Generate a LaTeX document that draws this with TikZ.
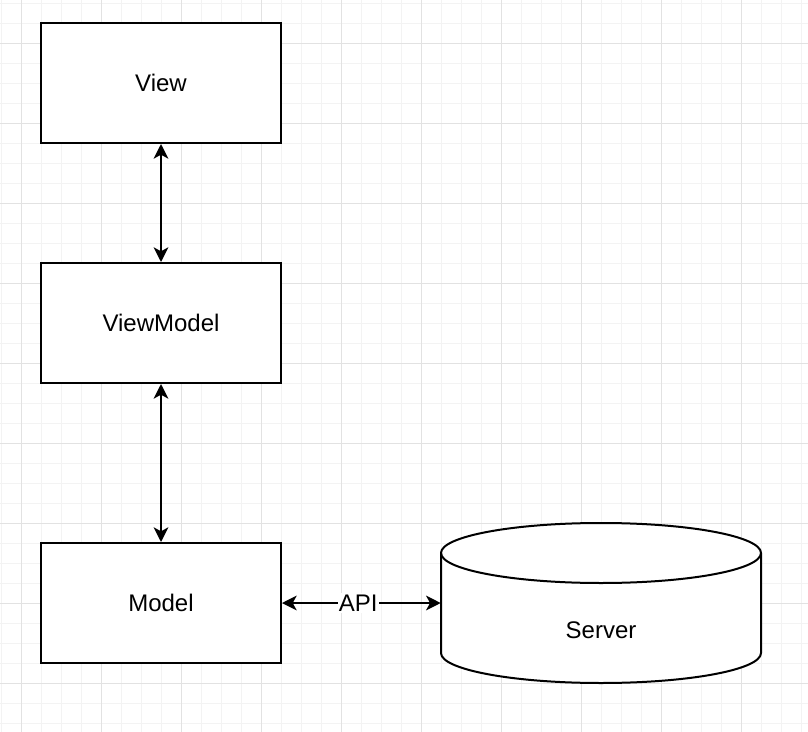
\documentclass[tikz,border=0pt]{standalone}
\usepackage{fontspec}
\setmainfont{Liberation Sans}
\usetikzlibrary{arrows.meta}
\definecolor{minorgrid}{HTML}{F3F3F3}
\definecolor{majorgrid}{HTML}{E2E2E2}
\tikzset{
  gridminor/.style={draw=minorgrid, line width=0.75pt},
  gridmajor/.style={draw=majorgrid, line width=0.75pt},
  box/.style={draw=black, fill=white, line width=1.5pt, minimum width=180pt,
    minimum height=90pt, font=\fontsize{18}{21.6}\selectfont},
  tip/.tip={Stealth[length=11pt, width=11pt, inset=3pt]},
  conn/.style={tip-tip, line width=1.5pt, draw=black},
  lbl/.style={fill=white, inner sep=1pt, font=\fontsize{18}{21.6}\selectfont},
  cyl/.style={draw=black, fill=white, line width=1.5pt}
}
\begin{document}
\begin{tikzpicture}[x=0.75pt, y=-0.75pt]
  \useasboundingbox (0,0) rectangle (808,732);
  % background grid
  \foreach \x in {1,21,...,801} \draw[gridminor] (\x,0) -- (\x,732);
  \foreach \y in {3,23,...,723} \draw[gridminor] (0,\y) -- (808,\y);
  \foreach \x in {21,101,...,741} \draw[gridmajor] (\x,0) -- (\x,732);
  \foreach \y in {43,123,...,683} \draw[gridmajor] (0,\y) -- (808,\y);

  % layers
  \node[box] (view) at (161,83) {View};
  \node[box] (viewmodel) at (161,323) {ViewModel};
  \node[box] (model) at (161,603) {Model};

  % database cylinder
  \node[minimum width=240pt, minimum height=120pt, inner sep=0pt] (server) at (601,603) {};
  \path[cyl] (441,553) -- (441,653)
    arc[start angle=180, end angle=0, x radius=160, y radius=30]
    -- (761,553)
    arc[start angle=0, end angle=-180, x radius=160, y radius=30] -- cycle;
  \draw[cyl, fill=none] (441,553)
    arc[start angle=180, end angle=0, x radius=160, y radius=30];
  \node[font=\fontsize{18}{21.6}\selectfont] (servertext) at (601,630) {Server};

  % connectors
  \draw[conn] (view) -- (viewmodel);
  \draw[conn] (viewmodel) -- (model);
  \draw[conn] (model.east) -- node[lbl, pos=0.48] {API} (server.west);
\end{tikzpicture}
\end{document}
